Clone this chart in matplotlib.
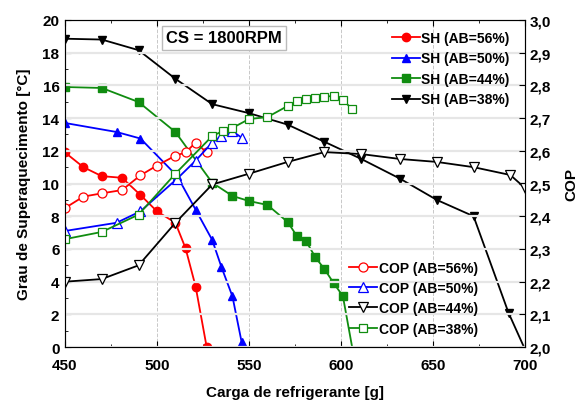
import matplotlib
matplotlib.use("Agg")
import matplotlib.pyplot as plt
from matplotlib.ticker import MultipleLocator

plt.rcParams['font.family'] = ['Liberation Sans', 'DejaVu Sans']
plt.rcParams['font.weight'] = 'bold'

x_56 = [450, 460, 470, 481, 491, 500, 510, 515.5, 521, 527]
sh_56 = [11.9, 11.0, 10.45, 10.35, 9.3, 8.3, 7.6, 6.05, 3.7, 0.0]
cop_56 = [2.425, 2.46, 2.47, 2.48, 2.525, 2.555, 2.585, 2.595, 2.625, 2.595]

x_50 = [450, 478, 491, 511, 521, 530, 535, 541, 546]
sh_50 = [13.7, 13.15, 12.75, 10.45, 8.4, 6.55, 4.9, 3.1, 0.3]
cop_50 = [2.355, 2.38, 2.415, 2.515, 2.57, 2.625, 2.645, 2.66, 2.64]

x_sh_44 = [450, 470, 490, 510, 530, 541, 550, 560, 571, 576, 581, 586, 591, 596, 601, 607]
sh_44 = [15.9, 15.84, 14.98, 13.15, 10.05, 9.24, 8.93, 8.69, 7.65, 6.79, 6.48, 5.5, 4.77, 3.91, 3.12, -0.6]

x_cop_38 = [450, 470, 490, 510, 530, 536, 541, 550, 560, 571, 576, 581, 586, 591, 596, 601, 606]
cop_38 = [2.33, 2.352, 2.405, 2.53, 2.645, 2.661, 2.67, 2.697, 2.703, 2.737, 2.752,
          2.758, 2.761, 2.765, 2.768, 2.755, 2.728]

x_38 = [450, 470, 490, 510, 530, 550, 571, 591, 611, 632, 652, 672, 691, 701]
sh_38 = [18.85, 18.8, 18.15, 16.4, 14.85, 14.3, 13.6, 12.55, 11.5, 10.3, 9.0, 8.0, 2.1, -0.4]

x_44 = [450, 470, 490, 510, 530, 550, 571, 591, 611, 632, 652, 672, 692, 700]
cop_44 = [2.2, 2.208, 2.25, 2.38, 2.497, 2.53, 2.566, 2.596, 2.59, 2.575, 2.566, 2.55, 2.526, 2.486]

RED, BLUE, GREEN, BLACK = '#ff0000', '#0000ff', '#108c10', '#000000'

fig = plt.figure(figsize=(5.88, 4.02), dpi=100)
ax = fig.add_axes([0.1105, 0.134, 0.7825, 0.814])
ax2 = ax.twinx()

kw = dict(lw=1.3, ms=6, clip_on=True)
sh_lines = [
    ax.plot(x_56, sh_56, '-o', color=RED, label='SH (AB=56%)', **kw)[0],
    ax.plot(x_50, sh_50, '-^', color=BLUE, label='SH (AB=50%)', **kw)[0],
    ax.plot(x_sh_44, sh_44, '-s', color=GREEN, label='SH (AB=44%)', ms=5.5, lw=1.3)[0],
    ax.plot(x_38, sh_38, '-v', color=BLACK, label='SH (AB=38%)', **kw)[0],
]
okw = dict(lw=1.3, ms=6.5, mfc='white', mew=0.9)
cop_lines = [
    ax2.plot(x_56, cop_56, '-o', color=RED, label='COP (AB=56%)', **okw)[0],
    ax2.plot(x_50, cop_50, '-^', color=BLUE, label='COP (AB=50%)', **okw)[0],
    ax2.plot(x_44, cop_44, '-v', color=BLACK, label='COP (AB=44%)', **okw)[0],
    ax2.plot(x_cop_38, cop_38, '-s', color=GREEN, label='COP (AB=38%)', lw=1.3, ms=5.5,
             mfc='white', mew=0.9)[0],
]

ax.set_xlim(450, 700)
ax.set_ylim(0, 20)
ax2.set_ylim(2.0, 3.0)
ax.xaxis.set_major_locator(MultipleLocator(50))
ax.xaxis.set_minor_locator(MultipleLocator(25))
ax.yaxis.set_major_locator(MultipleLocator(2))
ax.yaxis.set_minor_locator(MultipleLocator(1))
ax2.yaxis.set_major_locator(MultipleLocator(0.1))
ax2.yaxis.set_major_formatter(plt.FuncFormatter(lambda v, p: f'{v:.1f}'.replace('.', ',')))

ax.tick_params(which='both', direction='in', top=True, labelsize=11)
ax.tick_params(axis='x', pad=8)
ax.tick_params(axis='y', pad=4)
ax.tick_params(which='major', length=4)
ax.tick_params(which='minor', length=2)
ax2.tick_params(direction='in', labelsize=11, length=4, pad=3)
for lab in ax.get_xticklabels() + ax.get_yticklabels() + ax2.get_yticklabels():
    lab.set_fontweight('bold')

ax.grid(True, which='major', ls='--', color='#c8c8c8', lw=0.7)
ax2.grid(True, axis='y', color='#e6e6e6', lw=1.6)
ax2.set_axisbelow(True)
for sp in ax.spines.values():
    sp.set_color('#555555')

ax.set_xlabel('Carga de refrigerante [g]', fontsize=11, fontweight='bold', labelpad=9)
ax.set_ylabel('Grau de Superaquecimento [°C]', fontsize=11, fontweight='bold', labelpad=8)
ax2.set_ylabel('COP', fontsize=11, fontweight='bold', labelpad=10)

ax.text(0.346, 0.945, 'CS = 1800RPM', transform=ax.transAxes, fontsize=12,
        fontweight='bold', ha='center', va='center',
        bbox=dict(boxstyle='square,pad=0.25', fc='white', ec='#bbbbbb', lw=1))

leg1 = ax2.legend(handles=sh_lines, loc='upper right', bbox_to_anchor=(0.985, 0.992),
                  frameon=False, fontsize=10, handlelength=2.0, handletextpad=0.1,
                  labelspacing=0.47, borderaxespad=0.2)
ax2.add_artist(leg1)
ax2.legend(handles=cop_lines, loc='lower right', bbox_to_anchor=(0.915, 0.01),
           frameon=False, fontsize=10, handlelength=2.0, handletextpad=0.1,
           labelspacing=0.45, borderaxespad=0.2)

fig.savefig('out.png', dpi=100)
